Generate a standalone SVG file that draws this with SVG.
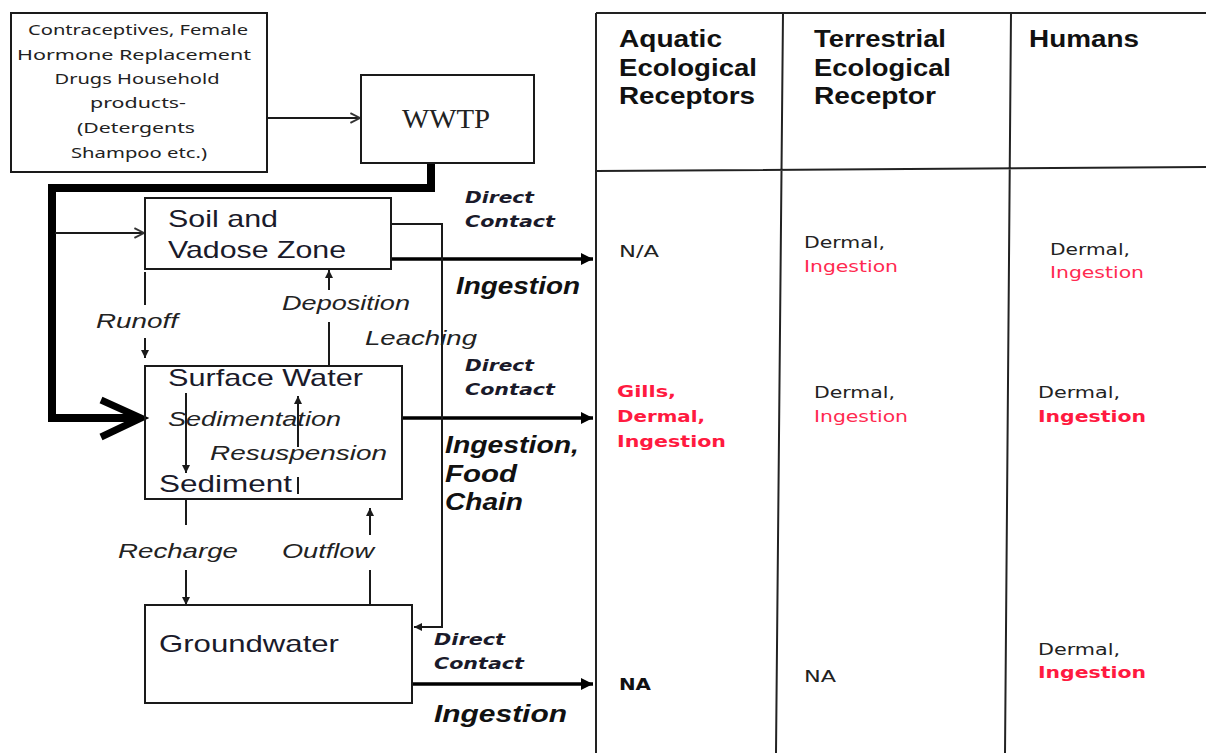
<svg xmlns="http://www.w3.org/2000/svg" width="1206" height="753" viewBox="0 0 1206 753">
<defs>
<style>
.box{fill:#fff;stroke:#1a1a1a;stroke-width:2}
.ln{fill:none;stroke:#1a1a1a;stroke-width:2}
.thk{fill:none;stroke:#000;stroke-width:3.5}
.grid{fill:none;stroke:#222;stroke-width:2}
.src{font-family:"Noto Sans","Open Sans",sans-serif;font-size:14px;fill:#222;text-anchor:middle}
.node{font-family:"Liberation Sans",Arial,sans-serif;font-size:24px;fill:#1a1a2a}
.flow{font-family:"Liberation Sans",Arial,sans-serif;font-size:21px;font-style:italic;fill:#222}
.dc{font-family:"DejaVu Sans",Verdana,sans-serif;font-size:15px;font-style:italic;font-weight:bold;fill:#1a1a2a}
.ing{font-family:"Liberation Sans",Arial,sans-serif;font-size:23px;font-style:italic;font-weight:bold;fill:#111}
.hdr{font-family:"Liberation Sans",Arial,sans-serif;font-size:23px;font-weight:bold;fill:#111}
.cell{font-family:"DejaVu Sans",Verdana,sans-serif;font-size:16px;fill:#222}
.red{fill:#ff2a50}
.rb{fill:#ff1a40;font-weight:bold}
.bk{font-weight:bold;fill:#111}
</style>
<marker id="tri" viewBox="0 0 10 10" refX="10" refY="5" markerWidth="14" markerHeight="12" markerUnits="userSpaceOnUse" orient="auto"><path d="M0,0 L10,5 L0,10 z" fill="#000"/></marker>
<marker id="sm" viewBox="0 0 10 10" refX="10" refY="5" markerWidth="9" markerHeight="8" markerUnits="userSpaceOnUse" orient="auto"><path d="M0,0 L10,5 L0,10 z" fill="#1a1a1a"/></marker>
<marker id="open" viewBox="0 0 10 10" refX="9" refY="5" markerWidth="12" markerHeight="12" markerUnits="userSpaceOnUse" orient="auto"><path d="M1,1 L9,5 L1,9" fill="none" stroke="#333" stroke-width="1.6"/></marker>
</defs>
<rect width="1206" height="753" fill="#fff"/>

<g id="table">
<path class="grid" d="M596 13 H1206 M596 13 V753 M596 171 L1206 167 M783 13 L776 753 M1011 13 L1005 753"/>
<text class="hdr" x="619" y="47" textLength="103" lengthAdjust="spacingAndGlyphs">Aquatic</text>
<text class="hdr" x="619" y="76" textLength="138" lengthAdjust="spacingAndGlyphs">Ecological</text>
<text class="hdr" x="619" y="104" textLength="136" lengthAdjust="spacingAndGlyphs">Receptors</text>
<text class="hdr" x="814" y="47" textLength="132" lengthAdjust="spacingAndGlyphs">Terrestrial</text>
<text class="hdr" x="814" y="76" textLength="137" lengthAdjust="spacingAndGlyphs">Ecological</text>
<text class="hdr" x="814" y="104" textLength="122" lengthAdjust="spacingAndGlyphs">Receptor</text>
<text class="hdr" x="1029" y="47" textLength="110" lengthAdjust="spacingAndGlyphs">Humans</text>

<text class="cell" x="619" y="257" textLength="40" lengthAdjust="spacingAndGlyphs">N/A</text>
<text class="cell" x="804" y="248" textLength="81" lengthAdjust="spacingAndGlyphs">Dermal,</text>
<text class="cell red" x="804" y="272" textLength="94" lengthAdjust="spacingAndGlyphs">Ingestion</text>
<text class="cell" x="1050" y="255" textLength="80" lengthAdjust="spacingAndGlyphs">Dermal,</text>
<text class="cell red" x="1050" y="278" textLength="94" lengthAdjust="spacingAndGlyphs">Ingestion</text>

<text class="cell rb" x="617" y="397" textLength="59" lengthAdjust="spacingAndGlyphs">Gills,</text>
<text class="cell rb" x="617" y="422" textLength="88" lengthAdjust="spacingAndGlyphs">Dermal,</text>
<text class="cell rb" x="617" y="447" textLength="109" lengthAdjust="spacingAndGlyphs">Ingestion</text>
<text class="cell" x="814" y="398" textLength="81" lengthAdjust="spacingAndGlyphs">Dermal,</text>
<text class="cell red" x="814" y="422" textLength="94" lengthAdjust="spacingAndGlyphs">Ingestion</text>
<text class="cell" x="1038" y="398" textLength="82" lengthAdjust="spacingAndGlyphs">Dermal,</text>
<text class="cell rb" x="1038" y="422" textLength="108" lengthAdjust="spacingAndGlyphs">Ingestion</text>

<text class="cell bk" x="619" y="690" textLength="32" lengthAdjust="spacingAndGlyphs">NA</text>
<text class="cell" x="804" y="682" textLength="32" lengthAdjust="spacingAndGlyphs">NA</text>
<text class="cell" x="1038" y="655" textLength="82" lengthAdjust="spacingAndGlyphs">Dermal,</text>
<text class="cell rb" x="1038" y="678" textLength="108" lengthAdjust="spacingAndGlyphs">Ingestion</text>
</g>

<g id="connectors">
<line class="ln" x1="268" y1="118" x2="360" y2="118" marker-end="url(#open)" stroke-width="1.5"/>
<path d="M431 163 V188 H52 V418 H138" fill="none" stroke="#000" stroke-width="8" stroke-linejoin="miter"/>
<polyline points="101,400 141,418 101,437" fill="none" stroke="#000" stroke-width="7" stroke-linejoin="miter"/>
<line class="ln" x1="55" y1="233" x2="144" y2="233" marker-end="url(#open)" stroke-width="1.5"/>
<path d="M158 237 L151 239 L155 245" fill="none" stroke="#20b89a" stroke-width="1.3"/>
<line class="thk" x1="391" y1="259" x2="593" y2="259" marker-end="url(#tri)"/>
<line class="thk" x1="402" y1="418" x2="593" y2="418" marker-end="url(#tri)"/>
<line class="thk" x1="412" y1="684" x2="593" y2="684" marker-end="url(#tri)"/>
<path class="ln" d="M391 224 H442 V627 H414" marker-end="url(#sm)"/>
<line class="ln" x1="145" y1="272" x2="145" y2="305"/>
<line class="ln" x1="145" y1="338" x2="145" y2="358" marker-end="url(#sm)"/>
<line class="ln" x1="329" y1="290" x2="329" y2="270" marker-end="url(#sm)"/>
<line class="ln" x1="329" y1="366" x2="329" y2="322"/>
<line class="ln" x1="186" y1="393" x2="186" y2="473" marker-end="url(#sm)"/>
<line class="ln" x1="298" y1="447" x2="298" y2="396" marker-end="url(#sm)"/>
<line class="ln" x1="298" y1="494" x2="298" y2="477"/>
<line class="ln" x1="186" y1="499" x2="186" y2="525"/>
<line class="ln" x1="186" y1="570" x2="186" y2="605" marker-end="url(#sm)"/>
<line class="ln" x1="370" y1="605" x2="370" y2="570"/>
<line class="ln" x1="370" y1="535" x2="370" y2="508" marker-end="url(#sm)"/>

<text class="dc" x="465" y="203" textLength="69" lengthAdjust="spacingAndGlyphs">Direct</text>
<text class="dc" x="465" y="227" textLength="90" lengthAdjust="spacingAndGlyphs">Contact</text>
<text class="ing" x="456" y="294" textLength="124" lengthAdjust="spacingAndGlyphs">Ingestion</text>
<text class="dc" x="465" y="371" textLength="69" lengthAdjust="spacingAndGlyphs">Direct</text>
<text class="dc" x="465" y="395" textLength="90" lengthAdjust="spacingAndGlyphs">Contact</text>
<text class="ing" x="445" y="453" textLength="134" lengthAdjust="spacingAndGlyphs">Ingestion,</text>
<text class="ing" x="445" y="482" textLength="72" lengthAdjust="spacingAndGlyphs">Food</text>
<text class="ing" x="445" y="510" textLength="78" lengthAdjust="spacingAndGlyphs">Chain</text>
<text class="dc" x="434" y="645" textLength="71" lengthAdjust="spacingAndGlyphs">Direct</text>
<text class="dc" x="434" y="669" textLength="90" lengthAdjust="spacingAndGlyphs">Contact</text>
<text class="ing" x="434" y="722" textLength="133" lengthAdjust="spacingAndGlyphs">Ingestion</text>

<text class="flow" x="96" y="328" textLength="82" lengthAdjust="spacingAndGlyphs">Runoff</text>
<text class="flow" x="282" y="310" textLength="128" lengthAdjust="spacingAndGlyphs">Deposition</text>
<text class="flow" x="365" y="345" textLength="112" lengthAdjust="spacingAndGlyphs">Leaching</text>
<text class="flow" x="168" y="426" textLength="173" lengthAdjust="spacingAndGlyphs">Sedimentation</text>
<text class="flow" x="210" y="460" textLength="177" lengthAdjust="spacingAndGlyphs">Resuspension</text>
<text class="flow" x="118" y="558" textLength="120" lengthAdjust="spacingAndGlyphs">Recharge</text>
<text class="flow" x="282" y="558" textLength="92" lengthAdjust="spacingAndGlyphs">Outflow</text>
</g>

<g id="source">
<rect class="box" x="11" y="13" width="256" height="159"/>
<text class="src" x="138" y="35" textLength="220" lengthAdjust="spacingAndGlyphs">Contraceptives, Female</text>
<text class="src" x="134" y="60" textLength="234" lengthAdjust="spacingAndGlyphs">Hormone Replacement</text>
<text class="src" x="137" y="84" textLength="165" lengthAdjust="spacingAndGlyphs">Drugs Household</text>
<text class="src" x="138" y="108" textLength="96" lengthAdjust="spacingAndGlyphs">products-</text>
<text class="src" x="136" y="133" textLength="118" lengthAdjust="spacingAndGlyphs">(Detergents</text>
<text class="src" x="139" y="158" textLength="136" lengthAdjust="spacingAndGlyphs">Shampoo etc.)</text>
</g>

<g id="wwtp">
<rect class="box" x="361" y="75" width="173" height="88"/>
<text x="402" y="128" font-family="Liberation Serif,serif" font-size="27" fill="#222" textLength="88" lengthAdjust="spacingAndGlyphs">WWTP</text>
</g>

<g id="soil">
<rect class="box" x="145" y="198" width="246" height="71"/>
<text class="node" x="168" y="227" textLength="110" lengthAdjust="spacingAndGlyphs">Soil and</text>
<text class="node" x="168" y="258" textLength="178" lengthAdjust="spacingAndGlyphs">Vadose Zone</text>
</g>

<g id="surface">
<rect class="box" x="145" y="366" width="257" height="133" fill="none" style="fill:none"/>
<text class="node" x="168" y="386" textLength="195" lengthAdjust="spacingAndGlyphs">Surface Water</text>
<text class="node" x="159" y="492" textLength="133" lengthAdjust="spacingAndGlyphs">Sediment</text>
</g>

<g id="groundwater">
<rect class="box" x="145" y="605" width="267" height="98"/>
<text class="node" x="159" y="652" textLength="180" lengthAdjust="spacingAndGlyphs">Groundwater</text>
</g>
</svg>
